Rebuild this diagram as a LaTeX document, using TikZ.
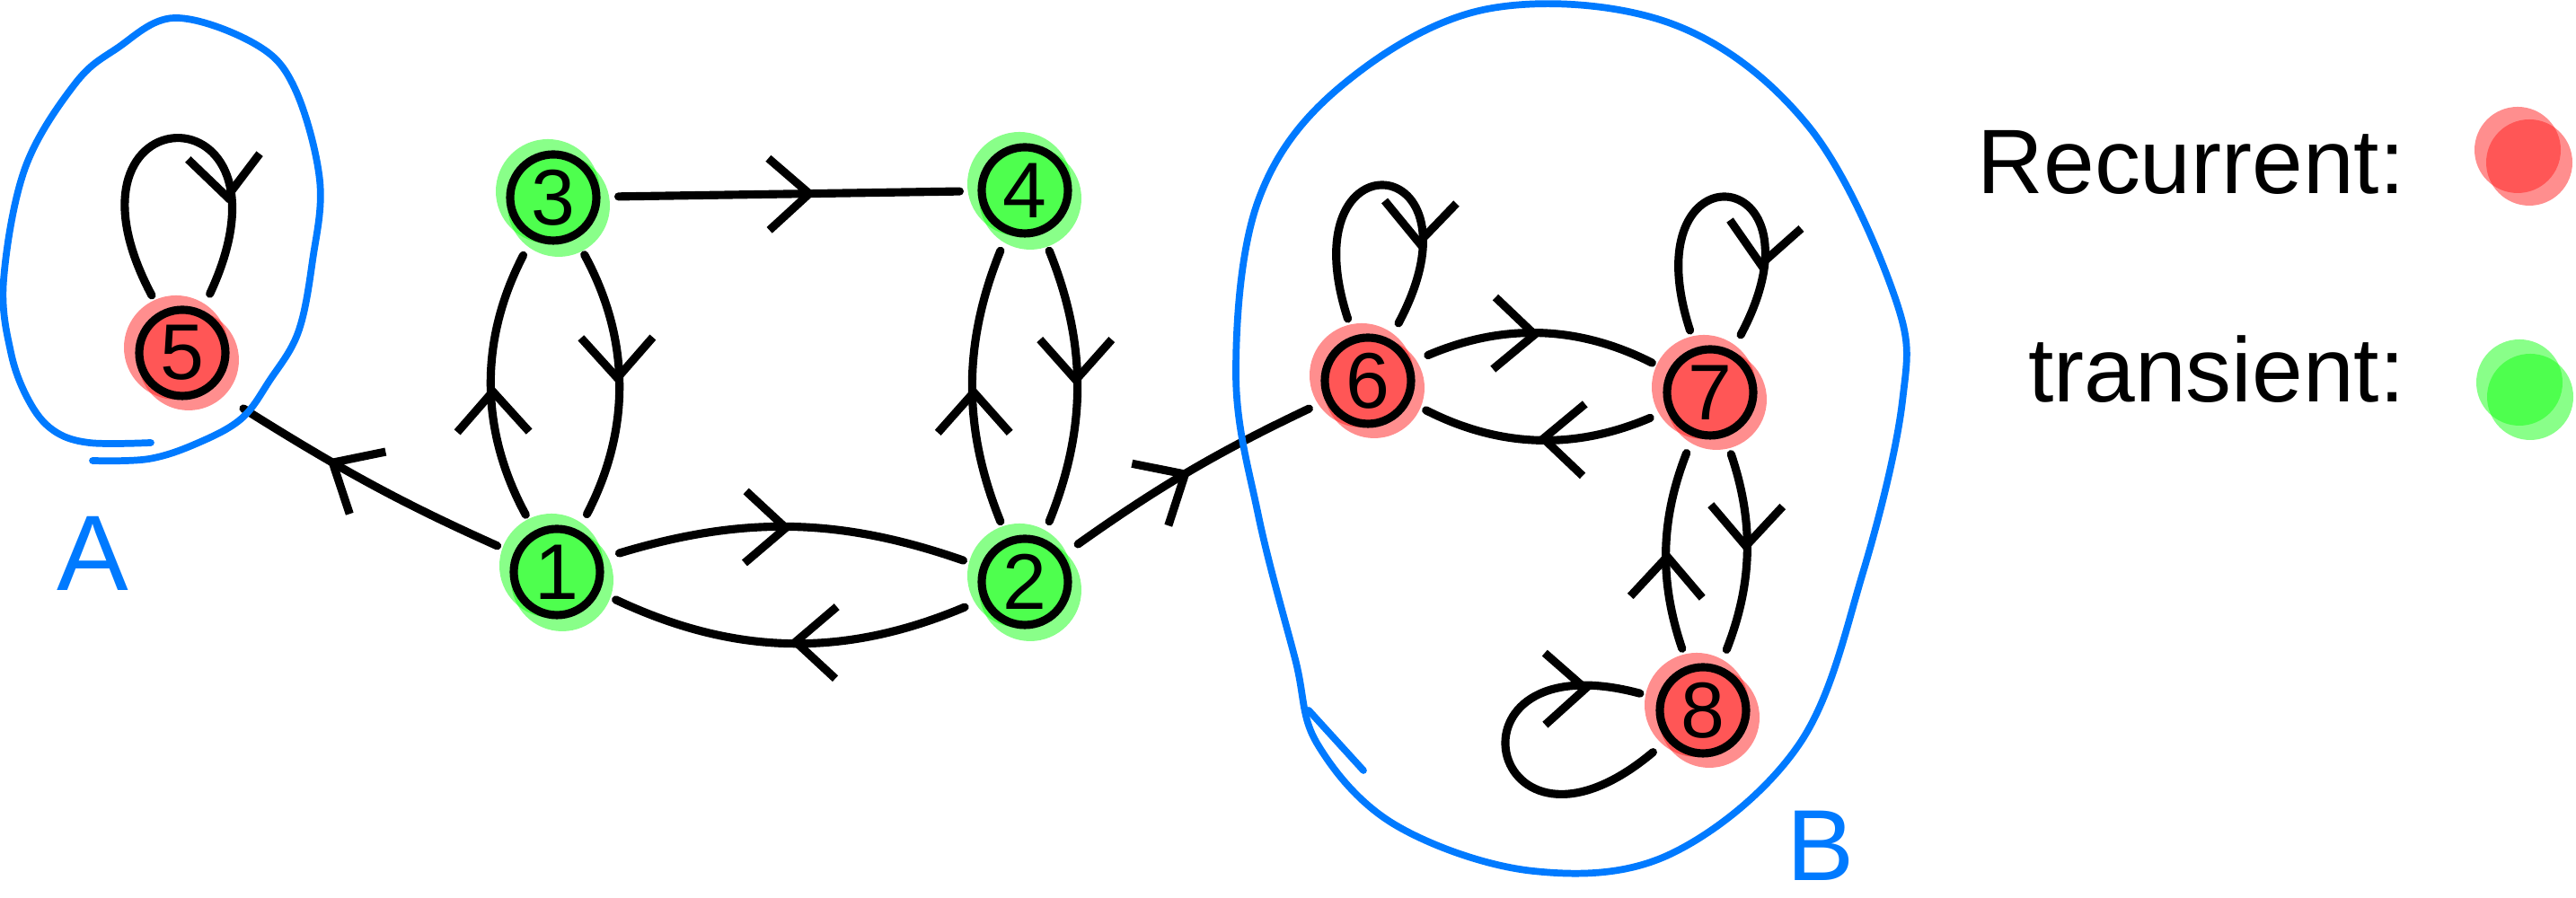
\documentclass[tikz,border=0pt]{standalone}
\usepackage{fontspec}
\setmainfont{Liberation Sans}
\usetikzlibrary{arrows.meta,decorations.markings,backgrounds}

\definecolor{penblue}{RGB}{0,122,255}
\definecolor{recred}{RGB}{255,30,30}
\definecolor{tragreen}{RGB}{20,255,20}

\tikzset{
  state/.style={circle, draw, line width=2.6pt, minimum size=9.6mm, inner sep=0pt,
    font=\fontsize{25}{27}\selectfont},
  link/.style={line width=2.6pt, line cap=round, shorten <=2mm, shorten >=2mm},
  midarrow/.style={postaction={decorate}, decoration={markings,
    mark=at position #1 with {\arrow[line width=2.6pt]{Straight Barb[length=4.5mm,width=8mm]}}}},
  midarrow/.default=0.5,
  recblob/.style={fill=recred, fill opacity=0.5},
  trablob/.style={fill=tragreen, fill opacity=0.5},
  region/.style={draw=penblue, line width=2.2pt, line cap=round, line join=round},
}

\begin{document}
\begin{tikzpicture}

    \useasboundingbox (0,0) rectangle (28.68,10);

    % 1. 绘制状态节点 1--8
    \node[state] (n1) at (6.20,3.63) {1};
    \node[state] (n2) at (11.41,3.52) {2};
    \node[state] (n3) at (6.16,7.80) {3};
    \node[state] (n4) at (11.41,7.88) {4};
    \node[state] (n5) at (2.03,6.07) {5};
    \node[state] (n6) at (15.23,5.76) {6};
    \node[state] (n7) at (19.04,5.63) {7};
    \node[state] (n8) at (18.96,2.09) {8};

    % 2. 在节点下面涂上颜色（红色 recurrent，绿色 transient）
    \begin{scope}[on background layer]
        \foreach \n in {n5,n6,n7,n8} {
            \fill[recblob] ([shift={(-0.07,0.06)}]\n) circle (0.58);
            \fill[recblob] ([shift={(0.07,-0.08)}]\n) circle (0.56);
        }
        \foreach \n in {n1,n2,n3,n4} {
            \fill[trablob] ([shift={(-0.06,0.07)}]\n) circle (0.58);
            \fill[trablob] ([shift={(0.06,-0.09)}]\n) circle (0.57);
        }
    \end{scope}

    % 3. 绘制转移箭头
    \draw[link, midarrow=0.57] (n3) -- (n4);
    \draw[link, midarrow] (n1) to[bend left=28] (n3);
    \draw[link, midarrow] (n3) to[bend left=28] (n1);
    \draw[link, midarrow] (n2) to[bend left=22] (n4);
    \draw[link, midarrow] (n4) to[bend left=22] (n2);
    \draw[link, midarrow] (n1) to[bend left=18] (n2);
    \draw[link, midarrow] (n2) to[bend left=24] (n1);
    \draw[link, midarrow] (n6) to[bend left=25] (n7);
    \draw[link, midarrow] (n7) to[bend left=25] (n6);
    \draw[link, midarrow] (n7) to[bend left=20] (n8);
    \draw[link, midarrow] (n8) to[bend left=20] (n7);
    \draw[link, midarrow] (n2) to[bend left=5] (n6);
    \coordinate (aIn) at (2.71,5.45);
    \draw[link, shorten >=0pt, midarrow=0.68] (n1) to[bend left=4] (aIn);

    % 4. 自环
    \draw[link, midarrow=0.72] (n5) to[out=118, in=65, min distance=2.8cm] (n5);
    \draw[link, midarrow=0.72] (n6) to[out=108, in=62, min distance=2.4cm] (n6);
    \draw[link, midarrow=0.75] (n7) to[out=108, in=62, min distance=2.4cm] (n7);
    \draw[link, midarrow=0.82] (n8) to[out=220, in=165, min distance=2.6cm] (n8);

    % 5. 蓝色的闭类 A 和 B
    \draw[region] plot[smooth, tension=0.6] coordinates {(1.68,5.07) (0.99,5.07) (0.59,5.21)
        (0.32,5.54) (0.12,6.08) (0.04,6.88) (0.28,8.13) (0.83,9.06) (1.30,9.46) (1.94,9.80)
        (2.84,9.51) (3.28,9.02) (3.56,7.99) (3.48,7.10) (3.32,6.30) (3.00,5.76) (2.69,5.34)
        (2.21,5.07) (1.66,4.89) (1.03,4.87)};
    \draw[region] plot[smooth cycle, tension=0.6] coordinates {(14.67,1.71) (14.42,2.66)
        (14.01,4.26) (13.76,5.85) (14.01,7.77) (14.93,9.04) (16.56,9.90) (18.60,9.74)
        (20.13,8.60) (21.10,6.68) (21.18,5.53) (20.74,3.62) (20.03,1.71) (18.60,0.49)
        (17.07,0.30) (15.54,0.81)};
    \draw[region] (14.57,2.09) -- (15.18,1.42);
    \node[text=penblue, font=\fontsize{34}{38}\selectfont] (labA) at (1.03,3.84) {A};
    \node[text=penblue, font=\fontsize{32}{36}\selectfont] (labB) at (20.27,0.58) {B};

    % 6. 图例
    \node[anchor=base east, font=\fontsize{29}{33}\selectfont] (recTxt) at (26.9,7.84) {Recurrent:};
    \node[anchor=base east, font=\fontsize{29}{33}\selectfont] (traTxt) at (26.9,5.52) {transient:};
    \fill[recblob] (28.03,8.33) circle (0.48);
    \fill[recblob] (28.16,8.19) circle (0.48);
    \fill[trablob] (28.05,5.74) circle (0.48);
    \fill[trablob] (28.17,5.58) circle (0.48);

\end{tikzpicture}
\end{document}
